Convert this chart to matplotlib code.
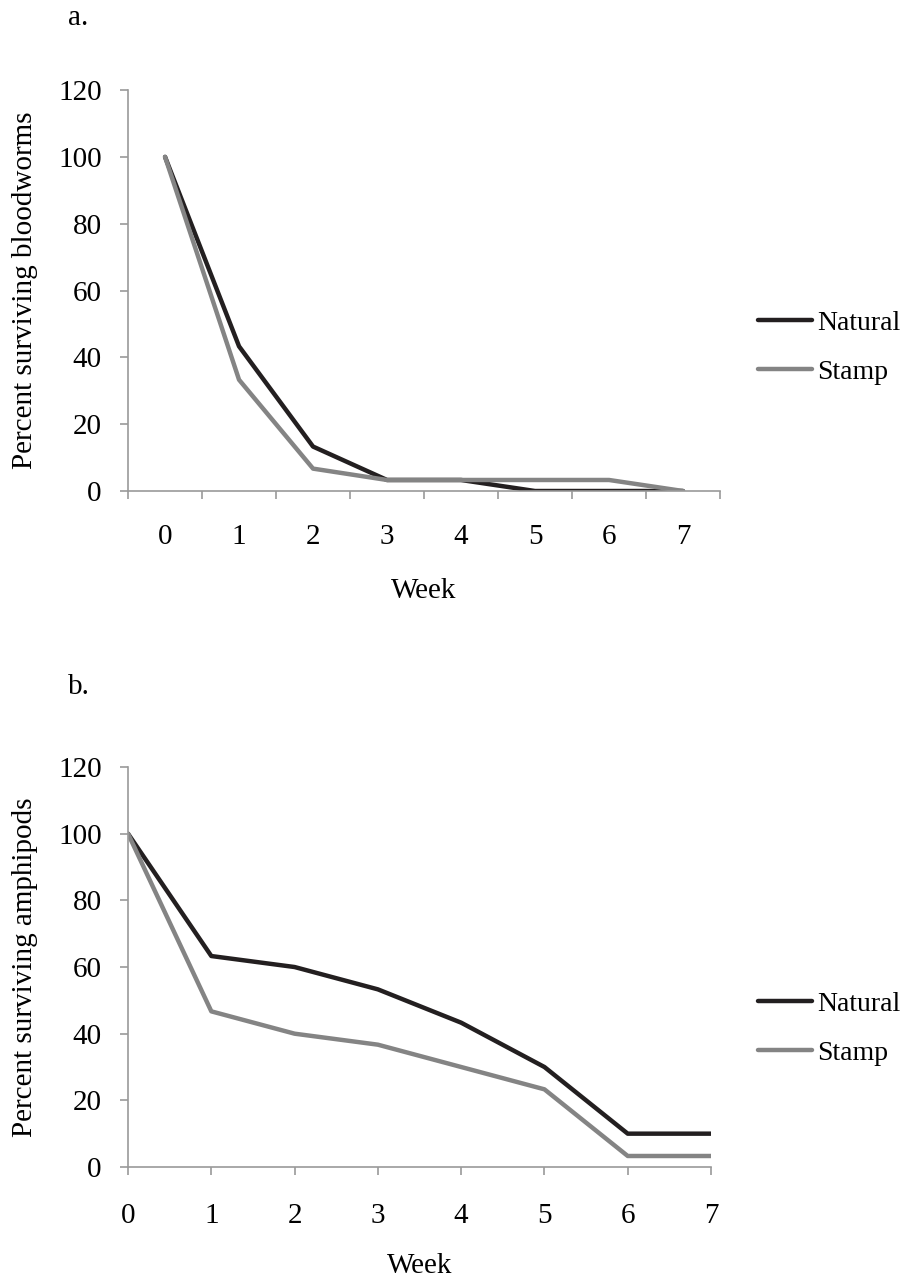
import numpy as np
import matplotlib
matplotlib.use("Agg")
import matplotlib.pyplot as plt

plt.rcParams['font.family'] = ['Liberation Serif', 'DejaVu Serif']
plt.rcParams['font.size'] = 21

weeks = [0, 1, 2, 3, 4, 5, 6, 7]
blood_natural = [100, 43.3, 13.3, 3.3, 3.3, 0, 0, 0]
blood_stamp = [100, 33.3, 6.7, 3.3, 3.3, 3.3, 3.3, 0]
amph_natural = [100, 63.3, 60, 53.3, 43.3, 30, 10, 10]
amph_stamp = [100, 46.7, 40, 36.7, 30, 23.3, 3.3, 3.3]

c_nat = '#231f20'
c_stamp = '#848484'
c_axis = '#9a9a9a'

fig = plt.figure(figsize=(9.12, 12.81), dpi=100)
ax_a = fig.add_axes([0.1404, 0.6167, 0.6491, 0.313])
ax_b = fig.add_axes([0.1404, 0.0890, 0.6392, 0.3122])


def style(ax):
    for s in ['top', 'right']:
        ax.spines[s].set_visible(False)
    for s in ['left', 'bottom']:
        ax.spines[s].set_color(c_axis)
        ax.spines[s].set_linewidth(1.2)
    ax.tick_params(which='both', color=c_axis, width=1.2, length=6,
                   direction='out', labelsize=21)
    ax.tick_params(axis='y', pad=13)
    ax.set_ylim(0, 120)
    ax.set_yticks(range(0, 121, 20))


def add_legend(ax, y):
    ax.legend(loc='center left', bbox_to_anchor=(0.831, y),
              bbox_transform=fig.transFigure, frameon=False, borderpad=0,
              borderaxespad=0, handlelength=1.95, handletextpad=0.2,
              labelspacing=0.85, fontsize=20)


line_kw = dict(lw=3.2, solid_capstyle='round', solid_joinstyle='round')

# panel a: category axis, ticks between categories
ax_a.plot(weeks, blood_natural, color=c_nat, label='Natural', **line_kw)
ax_a.plot(weeks, blood_stamp, color=c_stamp, label='Stamp', **line_kw)
style(ax_a)
ax_a.set_xlim(-0.5, 7.5)
ax_a.set_xticks(weeks)
ax_a.set_xticks(np.arange(-0.5, 8, 1), minor=True)
ax_a.tick_params(axis='x', which='major', length=0, pad=24)
ax_a.set_xlabel('Week', labelpad=20)
ax_a.set_ylabel('Percent surviving bloodworms')
ax_a.yaxis.set_label_coords(-0.152, 0.5)
add_legend(ax_a, 0.7287)
fig.text(0.0745, 0.986, 'a.', fontsize=21, va='center')

# panel b: values on ticks
ax_b.plot(weeks, amph_natural, color=c_nat, label='Natural', **line_kw)
ax_b.plot(weeks, amph_stamp, color=c_stamp, label='Stamp', **line_kw)
style(ax_b)
ax_b.set_xlim(0, 7)
ax_b.set_xticks(weeks)
ax_b.tick_params(axis='x', pad=20)
ax_b.set_xlabel('Week', labelpad=17)
ax_b.set_ylabel('Percent surviving amphipods')
ax_b.yaxis.set_label_coords(-0.154, 0.5)
add_legend(ax_b, 0.1971)
fig.text(0.0745, 0.4637, 'b.', fontsize=21, va='center')

fig.savefig('out.png', dpi=100)
